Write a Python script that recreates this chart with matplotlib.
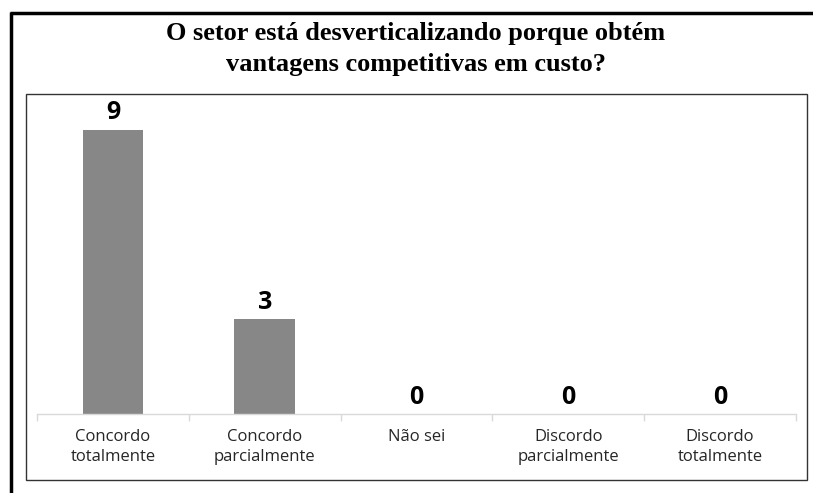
import matplotlib
matplotlib.use("Agg")
import matplotlib.pyplot as plt
from matplotlib.lines import Line2D
from matplotlib.patches import Rectangle

# Chart data
categories = ["Concordo\ntotalmente", "Concordo\nparcialmente", "Não sei",
              "Discordo\nparcialmente", "Discordo\ntotalmente"]
counts = [9, 3, 0, 0, 0]
title = "O setor está desverticalizando porque obtém\nvantagens competitivas em custo?"

W, H = 813, 493
fig = plt.figure(figsize=(W / 100, H / 100), dpi=100)

# axes placed in pixel terms: x 37..796, y 98..414 (top-down)
ax = fig.add_axes([37 / W, 1 - 414 / H, (796 - 37) / W, (414 - 98) / H])
x = range(len(categories))
bars = ax.bar(x, counts, width=0.4, color="#878787")
ax.set_xlim(-0.5, len(categories) - 0.5)
ax.set_ylim(0, 10)

for b, v in zip(bars, counts):
    ax.annotate(str(v), (b.get_x() + b.get_width() / 2, v), textcoords="offset points",
                xytext=(0, 3), ha="center", va="bottom", fontsize=18, fontweight="bold",
                family="Open Sans", color="black")

for s in ["top", "right", "left"]:
    ax.spines[s].set_visible(False)
ax.spines["bottom"].set_color("#d9d9d9")
ax.spines["bottom"].set_linewidth(1.0)
ax.set_yticks([])
ax.set_xticks([i - 0.5 for i in range(len(categories) + 1)], minor=False)
ax.set_xticklabels([])
ax.tick_params(axis="x", length=5, color="#d9d9d9", width=1.0)
ax.set_xticks(list(x), minor=True)
ax.set_xticklabels(categories, minor=True, fontsize=12, family="Open Sans", color="#262626",
                   linespacing=1.3)
ax.tick_params(axis="x", which="minor", length=0, pad=11)

# inner chart frame
fig.add_artist(Rectangle((26 / W, 1 - 480 / H), (807 - 26) / W, (480 - 94) / H,
                         transform=fig.transFigure, fill=False, edgecolor="#333333", lw=1.0))

# thick outer border (top and left)
fig.add_artist(Line2D([10 / W, 1], [1 - 13 / H, 1 - 13 / H], transform=fig.transFigure,
                      color="black", lw=2.5, solid_capstyle="butt"))
fig.add_artist(Line2D([11 / W, 11 / W], [0, 1 - 11.5 / H], transform=fig.transFigure,
                      color="black", lw=2.5, solid_capstyle="butt"))

fig.text(416 / W, 1 - 49 / H, title, ha="center", va="center", fontsize=19,
         fontweight="bold", family="Liberation Serif", linespacing=1.45)

fig.savefig("out.png", dpi=100)
